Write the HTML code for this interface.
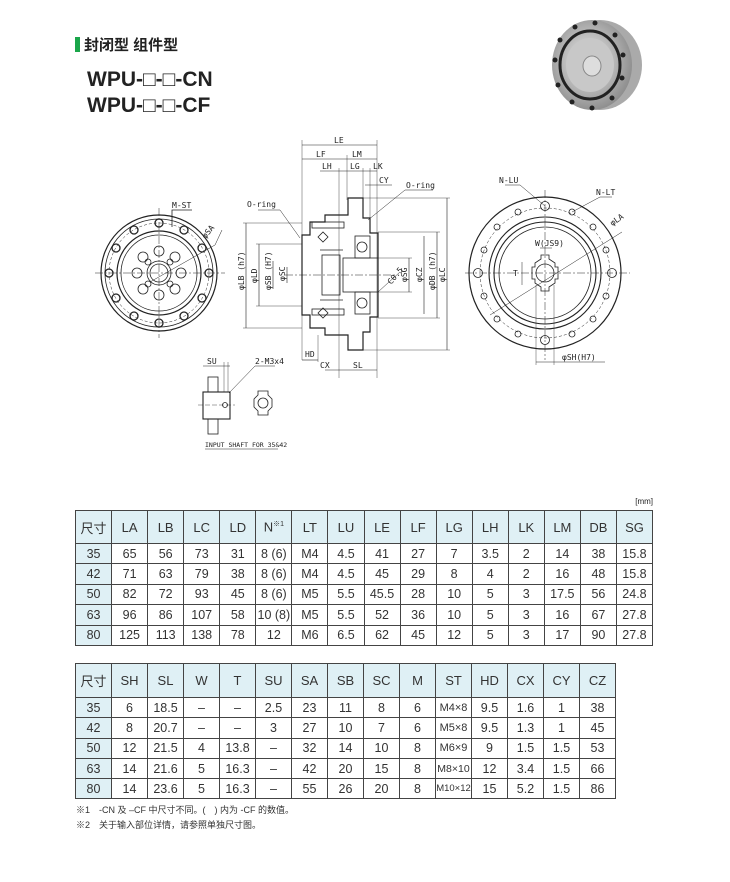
<!DOCTYPE html>
<html><head><meta charset="utf-8"><style>
body{margin:0;background:#fff;width:730px;height:882px;position:relative;overflow:hidden;font-family:"Liberation Sans","Noto Sans CJK SC",sans-serif;color:#222}
.abs{position:absolute}
table{border-collapse:collapse;position:absolute;table-layout:fixed}
td{border:1.3px solid #444;text-align:center;font-size:12.5px;padding:0;color:#333}
tr.h td{background:#dff0f5;font-size:13px}
td.f{background:#dff0f5}
svg text{font-family:"DejaVu Sans Mono","Liberation Mono",monospace;font-size:8px;fill:#222}
</style></head><body>
<div class="abs" style="left:75px;top:37px;width:5px;height:15px;background:#1aa64a"></div>
<div class="abs" style="left:84px;top:34px;font-size:15px;font-weight:bold;">封闭型 组件型</div>
<div class="abs" style="left:87px;top:67px;font-size:21px;font-weight:bold;line-height:26px;">WPU-□-□-CN<br>WPU-□-□-CF</div>

<svg class="abs" style="left:0;top:0" width="730" height="500">
<defs>
<radialGradient id="g" cx="45%" cy="45%" r="60%"><stop offset="0" stop-color="#eee"/><stop offset="1" stop-color="#888"/></radialGradient>
</defs>
<!-- product photo -->
<ellipse cx="600" cy="65" rx="42" ry="45" fill="#aaa"/>
<ellipse cx="592" cy="65" rx="40" ry="45" fill="url(#g)"/>
<ellipse cx="590" cy="65" rx="30" ry="34" fill="none" stroke="#222" stroke-width="3"/>
<ellipse cx="590" cy="65" rx="24" ry="27" fill="#c8c8c8"/>
<ellipse cx="592" cy="66" rx="9" ry="10" fill="#ddd" stroke="#888"/>
<g fill="#222"><circle cx="555" cy="60" r="2.5"/><circle cx="560" cy="40" r="2.5"/><circle cx="575" cy="27" r="2.5"/><circle cx="595" cy="23" r="2.5"/><circle cx="615" cy="35" r="2.5"/><circle cx="623" cy="55" r="2.5"/><circle cx="622" cy="78" r="2.5"/><circle cx="612" cy="98" r="2.5"/><circle cx="592" cy="108" r="2.5"/><circle cx="572" cy="102" r="2.5"/><circle cx="558" cy="85" r="2.5"/></g>

<g fill="none" stroke="#222" stroke-width="0.8">
<!-- left view -->
<line x1="95" y1="273" x2="225" y2="273" stroke-dasharray="8 2 2 2" stroke-width="0.5"/>
<line x1="159" y1="208" x2="159" y2="338" stroke-dasharray="8 2 2 2" stroke-width="0.5"/>
<circle cx="159" cy="273" r="58" stroke-width="1.2"/>
<circle cx="159" cy="273" r="54"/>
<circle cx="159" cy="273" r="50" stroke-dasharray="3 2" stroke-width="0.5"/>
<circle cx="159" cy="273" r="42" stroke-width="1.2"/>
<circle cx="159" cy="273" r="38"/>
<circle cx="159" cy="273" r="12"/><circle cx="159" cy="273" r="9"/>
<g stroke-width="1.3">
<circle cx="209" cy="273" r="4"/><circle cx="109" cy="273" r="4"/><circle cx="159" cy="223" r="4"/><circle cx="159" cy="323" r="4"/>
<circle cx="184" cy="230" r="4"/><circle cx="134" cy="230" r="4"/><circle cx="184" cy="316" r="4"/><circle cx="134" cy="316" r="4"/>
<circle cx="202" cy="248" r="4"/><circle cx="116" cy="248" r="4"/><circle cx="202" cy="298" r="4"/><circle cx="116" cy="298" r="4"/>
</g>
<circle cx="181" cy="273" r="5"/><circle cx="137" cy="273" r="5"/><circle cx="159" cy="251" r="5"/><circle cx="159" cy="295" r="5"/>
<circle cx="175" cy="257" r="5"/><circle cx="143" cy="257" r="5"/><circle cx="175" cy="289" r="5"/><circle cx="143" cy="289" r="5"/>
<circle cx="170" cy="262" r="3"/><circle cx="148" cy="284" r="3"/><circle cx="170" cy="284" r="3"/><circle cx="148" cy="262" r="3"/>
<polyline points="172,227 172,210 192,210"/>
<line x1="150" y1="282" x2="215" y2="245" stroke-width="0.5"/><line x1="215" y1="245" x2="222" y2="230" stroke-width="0.5"/>

<!-- middle section -->
<line x1="285" y1="275" x2="395" y2="275" stroke-dasharray="8 2 2 2" stroke-width="0.5"/>
<path d="M348,198 H363 V218 H370 V233 H378 V317 H370 V332 H363 V350 H348 V335 H325 V328 H310 V315 H302 V235 H310 V222 H325 V215 H348 Z" stroke-width="1.2"/>
<rect x="312" y="222" width="32" height="6"/><rect x="312" y="309" width="32" height="6"/>
<rect x="355" y="236" width="15" height="22"/><circle cx="362" cy="247" r="5"/>
<rect x="355" y="292" width="15" height="22"/><circle cx="362" cy="303" r="5"/>
<rect x="343" y="258" width="35" height="34"/>
<line x1="320" y1="250" x2="343" y2="250"/><line x1="320" y1="300" x2="343" y2="300"/>
<rect x="322" y="255" width="18" height="40"/>
<path d="M318,237 l5,-5 5,5 -5,5z M318,313 l5,-5 5,5 -5,5z"/>
<!-- dims -->
<line x1="302" y1="145" x2="377" y2="145" stroke-width="0.6"/>
<line x1="302" y1="159" x2="377" y2="159" stroke-width="0.6"/>
<line x1="320" y1="171" x2="377" y2="171" stroke-width="0.6"/>
<line x1="365" y1="185" x2="392" y2="185" stroke-width="0.6"/>
<line x1="302" y1="140" x2="302" y2="360" stroke-width="0.4"/>
<line x1="377" y1="140" x2="377" y2="378" stroke-width="0.4"/>
<line x1="347" y1="155" x2="347" y2="200" stroke-width="0.4"/>
<line x1="339" y1="168" x2="339" y2="378" stroke-width="0.4"/>
<line x1="363" y1="168" x2="363" y2="200" stroke-width="0.4"/>
<line x1="370" y1="168" x2="370" y2="220" stroke-width="0.4"/>
<line x1="302" y1="360" x2="318" y2="360" stroke-width="0.6"/>
<line x1="318" y1="335" x2="318" y2="362" stroke-width="0.4"/>
<line x1="325" y1="370" x2="377" y2="370" stroke-width="0.6"/>
<!-- vertical dims -->
<line x1="246" y1="223" x2="246" y2="328" stroke-width="0.6"/><line x1="243" y1="223" x2="302" y2="223" stroke-width="0.4"/><line x1="243" y1="328" x2="302" y2="328" stroke-width="0.4"/>
<line x1="259" y1="244" x2="259" y2="306" stroke-width="0.6"/><line x1="256" y1="244" x2="302" y2="244" stroke-width="0.4"/><line x1="256" y1="306" x2="302" y2="306" stroke-width="0.4"/>
<line x1="273" y1="261" x2="273" y2="289" stroke-width="0.6"/>
<line x1="287" y1="267" x2="287" y2="283" stroke-width="0.6"/>
<line x1="409" y1="258" x2="409" y2="292" stroke-width="0.6"/><line x1="378" y1="258" x2="412" y2="258" stroke-width="0.4"/><line x1="378" y1="292" x2="412" y2="292" stroke-width="0.4"/>
<line x1="424" y1="236" x2="424" y2="314" stroke-width="0.6"/>
<line x1="437" y1="232" x2="437" y2="318" stroke-width="0.6"/><line x1="378" y1="232" x2="440" y2="232" stroke-width="0.4"/><line x1="378" y1="318" x2="440" y2="318" stroke-width="0.4"/>
<line x1="447" y1="198" x2="447" y2="350" stroke-width="0.6"/><line x1="363" y1="198" x2="450" y2="198" stroke-width="0.4"/><line x1="363" y1="350" x2="450" y2="350" stroke-width="0.4"/>
<polyline points="258,210 280,210 300,238" stroke-width="0.5"/>
<polyline points="433,190 405,190 368,220" stroke-width="0.5"/>
<line x1="378" y1="292" x2="400" y2="272" stroke-width="0.5"/>

<!-- input shaft -->
<rect x="208" y="377" width="10" height="15"/><rect x="203" y="392" width="27" height="27" stroke-width="1.1"/><rect x="208" y="419" width="10" height="15"/>
<circle cx="225" cy="405" r="2.5"/><line x1="198" y1="405" x2="235" y2="405" stroke-dasharray="5 2" stroke-width="0.4"/>
<line x1="203" y1="366" x2="230" y2="366" stroke-width="0.5"/><line x1="224" y1="362" x2="224" y2="392" stroke-width="0.4"/><line x1="228" y1="362" x2="228" y2="392" stroke-width="0.4"/>
<polyline points="275,366 255,366 229,393" stroke-width="0.5"/>
<path d="M258,391 h10 v4 l4,4 v8 l-4,4 v4 h-10 v-4 l-4,-4 v-8 l4,-4z"/><circle cx="263" cy="403" r="5"/>
<line x1="205" y1="449" x2="278" y2="449" stroke-width="0.5"/>

<!-- right view -->
<line x1="465" y1="273" x2="630" y2="273" stroke-dasharray="8 2 2 2" stroke-width="0.5"/>
<line x1="545" y1="190" x2="545" y2="360" stroke-dasharray="8 2 2 2" stroke-width="0.5"/>
<circle cx="545" cy="273" r="76" stroke-width="1.2"/>
<circle cx="545" cy="273" r="65" stroke-dasharray="3 2" stroke-width="0.5"/>
<circle cx="545" cy="273" r="56" stroke-width="1.1"/>
<circle cx="545" cy="273" r="51" stroke-width="1.1"/>
<circle cx="545" cy="273" r="46"/>
<g>
<circle cx="545" cy="206" r="4.5"/><circle cx="545" cy="340" r="4.5"/><circle cx="478" cy="273" r="4.5"/><circle cx="612" cy="273" r="4.5"/>
<circle cx="572" cy="212" r="3"/><circle cx="518" cy="212" r="3"/><circle cx="572" cy="334" r="3"/><circle cx="518" cy="334" r="3"/>
<circle cx="593" cy="227" r="3"/><circle cx="497" cy="227" r="3"/><circle cx="593" cy="319" r="3"/><circle cx="497" cy="319" r="3"/>
<circle cx="606" cy="250" r="3"/><circle cx="484" cy="250" r="3"/><circle cx="606" cy="296" r="3"/><circle cx="484" cy="296" r="3"/>
</g>
<path d="M541,255 h8 v4 l6,4 v4 l3,0 v12 h-3 v4 l-6,4 v4 h-8 v-4 l-6,-4 v-4 h-3 v-12 h3 v-4 l6,-4z"/>
<circle cx="545" cy="273" r="9"/>
<line x1="490" y1="315" x2="622" y2="232" stroke-width="0.5"/>
<line x1="522" y1="262" x2="522" y2="285" stroke-width="0.5"/>
<line x1="536" y1="285" x2="536" y2="365" stroke-width="0.4"/><line x1="554" y1="285" x2="554" y2="365" stroke-width="0.4"/>
<line x1="536" y1="362" x2="605" y2="362" stroke-width="0.5"/>
<line x1="540" y1="248" x2="552" y2="248" stroke-width="0.5"/>
<polyline points="505,185 520,185 545,206" stroke-width="0.5"/>
<polyline points="612,197 600,197 572,212" stroke-width="0.5"/>
</g>
<g>
<text x="172" y="208">M-ST</text><text x="204" y="236" transform="rotate(-50 208 236)">φSA</text>
<text x="334" y="143">LE</text><text x="316" y="157">LF</text><text x="352" y="157">LM</text>
<text x="322" y="169">LH</text><text x="350" y="169">LG</text><text x="373" y="169">LK</text><text x="379" y="183">CY</text>
<text x="247" y="207">O-ring</text><text x="406" y="188">O-ring</text>
<text x="305" y="357">HD</text><text x="320" y="368">CX</text><text x="353" y="368">SL</text>
<text x="207" y="364">SU</text><text x="255" y="364">2-M3x4</text>
<text x="205" y="447" style="font-size:6.5px">INPUT SHAFT FOR 35&amp;42</text>
<text x="499" y="183">N-LU</text><text x="596" y="195">N-LT</text><text x="612" y="225" transform="rotate(-35 614 225)">φLA</text>
<text x="535" y="246">W(JS9)</text><text x="562" y="360">φSH(H7)</text><text x="513" y="276">T</text>
<g transform="rotate(-90)"><text x="-290" y="244">φLB (h7)</text><text x="-283" y="257">φLD</text><text x="-290" y="271">φSB (H7)</text><text x="-281" y="285">φSC</text>
<text x="-282" y="407">φSG</text><text x="-282" y="422">φCZ</text><text x="-290" y="435">φDB (h7)</text><text x="-282" y="445">φLC</text></g>
<text x="387" y="284" transform="rotate(-50 390 280)">C0.5</text>
</g>
</svg>

<div class="abs" style="left:620px;top:497px;font-size:8px;width:33px;text-align:right">[mm]</div>
<table style="left:75px;top:510px;width:578px">
<tr class="h" style="height:33px"><td>尺寸</td><td>LA</td><td>LB</td><td>LC</td><td>LD</td><td>N<sup style="font-size:7px">※1</sup></td><td>LT</td><td>LU</td><td>LE</td><td>LF</td><td>LG</td><td>LH</td><td>LK</td><td>LM</td><td>DB</td><td>SG</td></tr>
<tr style="height:20.4px"><td class="f">35</td><td>65</td><td>56</td><td>73</td><td>31</td><td>8 (6)</td><td>M4</td><td>4.5</td><td>41</td><td>27</td><td>7</td><td>3.5</td><td>2</td><td>14</td><td>38</td><td>15.8</td></tr>
<tr style="height:20.4px"><td class="f">42</td><td>71</td><td>63</td><td>79</td><td>38</td><td>8 (6)</td><td>M4</td><td>4.5</td><td>45</td><td>29</td><td>8</td><td>4</td><td>2</td><td>16</td><td>48</td><td>15.8</td></tr>
<tr style="height:20.4px"><td class="f">50</td><td>82</td><td>72</td><td>93</td><td>45</td><td>8 (6)</td><td>M5</td><td>5.5</td><td>45.5</td><td>28</td><td>10</td><td>5</td><td>3</td><td>17.5</td><td>56</td><td>24.8</td></tr>
<tr style="height:20.4px"><td class="f">63</td><td>96</td><td>86</td><td>107</td><td>58</td><td>10 (8)</td><td>M5</td><td>5.5</td><td>52</td><td>36</td><td>10</td><td>5</td><td>3</td><td>16</td><td>67</td><td>27.8</td></tr>
<tr style="height:20.4px"><td class="f">80</td><td>125</td><td>113</td><td>138</td><td>78</td><td>12</td><td>M6</td><td>6.5</td><td>62</td><td>45</td><td>12</td><td>5</td><td>3</td><td>17</td><td>90</td><td>27.8</td></tr>
</table>
<table style="left:75px;top:663px;width:541px">
<tr class="h" style="height:34px"><td>尺寸</td><td>SH</td><td>SL</td><td>W</td><td>T</td><td>SU</td><td>SA</td><td>SB</td><td>SC</td><td>M</td><td>ST</td><td>HD</td><td>CX</td><td>CY</td><td>CZ</td></tr>
<tr style="height:20.3px"><td class="f">35</td><td>6</td><td>18.5</td><td>–</td><td>–</td><td>2.5</td><td>23</td><td>11</td><td>8</td><td>6</td><td style="font-size:11px">M4×8</td><td>9.5</td><td>1.6</td><td>1</td><td>38</td></tr>
<tr style="height:20.3px"><td class="f">42</td><td>8</td><td>20.7</td><td>–</td><td>–</td><td>3</td><td>27</td><td>10</td><td>7</td><td>6</td><td style="font-size:11px">M5×8</td><td>9.5</td><td>1.3</td><td>1</td><td>45</td></tr>
<tr style="height:20.3px"><td class="f">50</td><td>12</td><td>21.5</td><td>4</td><td>13.8</td><td>–</td><td>32</td><td>14</td><td>10</td><td>8</td><td style="font-size:11px">M6×9</td><td>9</td><td>1.5</td><td>1.5</td><td>53</td></tr>
<tr style="height:20.3px"><td class="f">63</td><td>14</td><td>21.6</td><td>5</td><td>16.3</td><td>–</td><td>42</td><td>20</td><td>15</td><td>8</td><td style="font-size:10.5px">M8×10</td><td>12</td><td>3.4</td><td>1.5</td><td>66</td></tr>
<tr style="height:20.3px"><td class="f">80</td><td>14</td><td>23.6</td><td>5</td><td>16.3</td><td>–</td><td>55</td><td>26</td><td>20</td><td>8</td><td style="font-size:9.5px">M10×12</td><td>15</td><td>5.2</td><td>1.5</td><td>86</td></tr>
</table>
<div class="abs" style="left:76px;top:803px;font-size:9px;line-height:15px;color:#333">※1　-CN 及 –CF 中尺寸不同。(　) 内为 -CF 的数值。<br>※2　关于输入部位详情，请参照单独尺寸图。</div>
</body></html>
